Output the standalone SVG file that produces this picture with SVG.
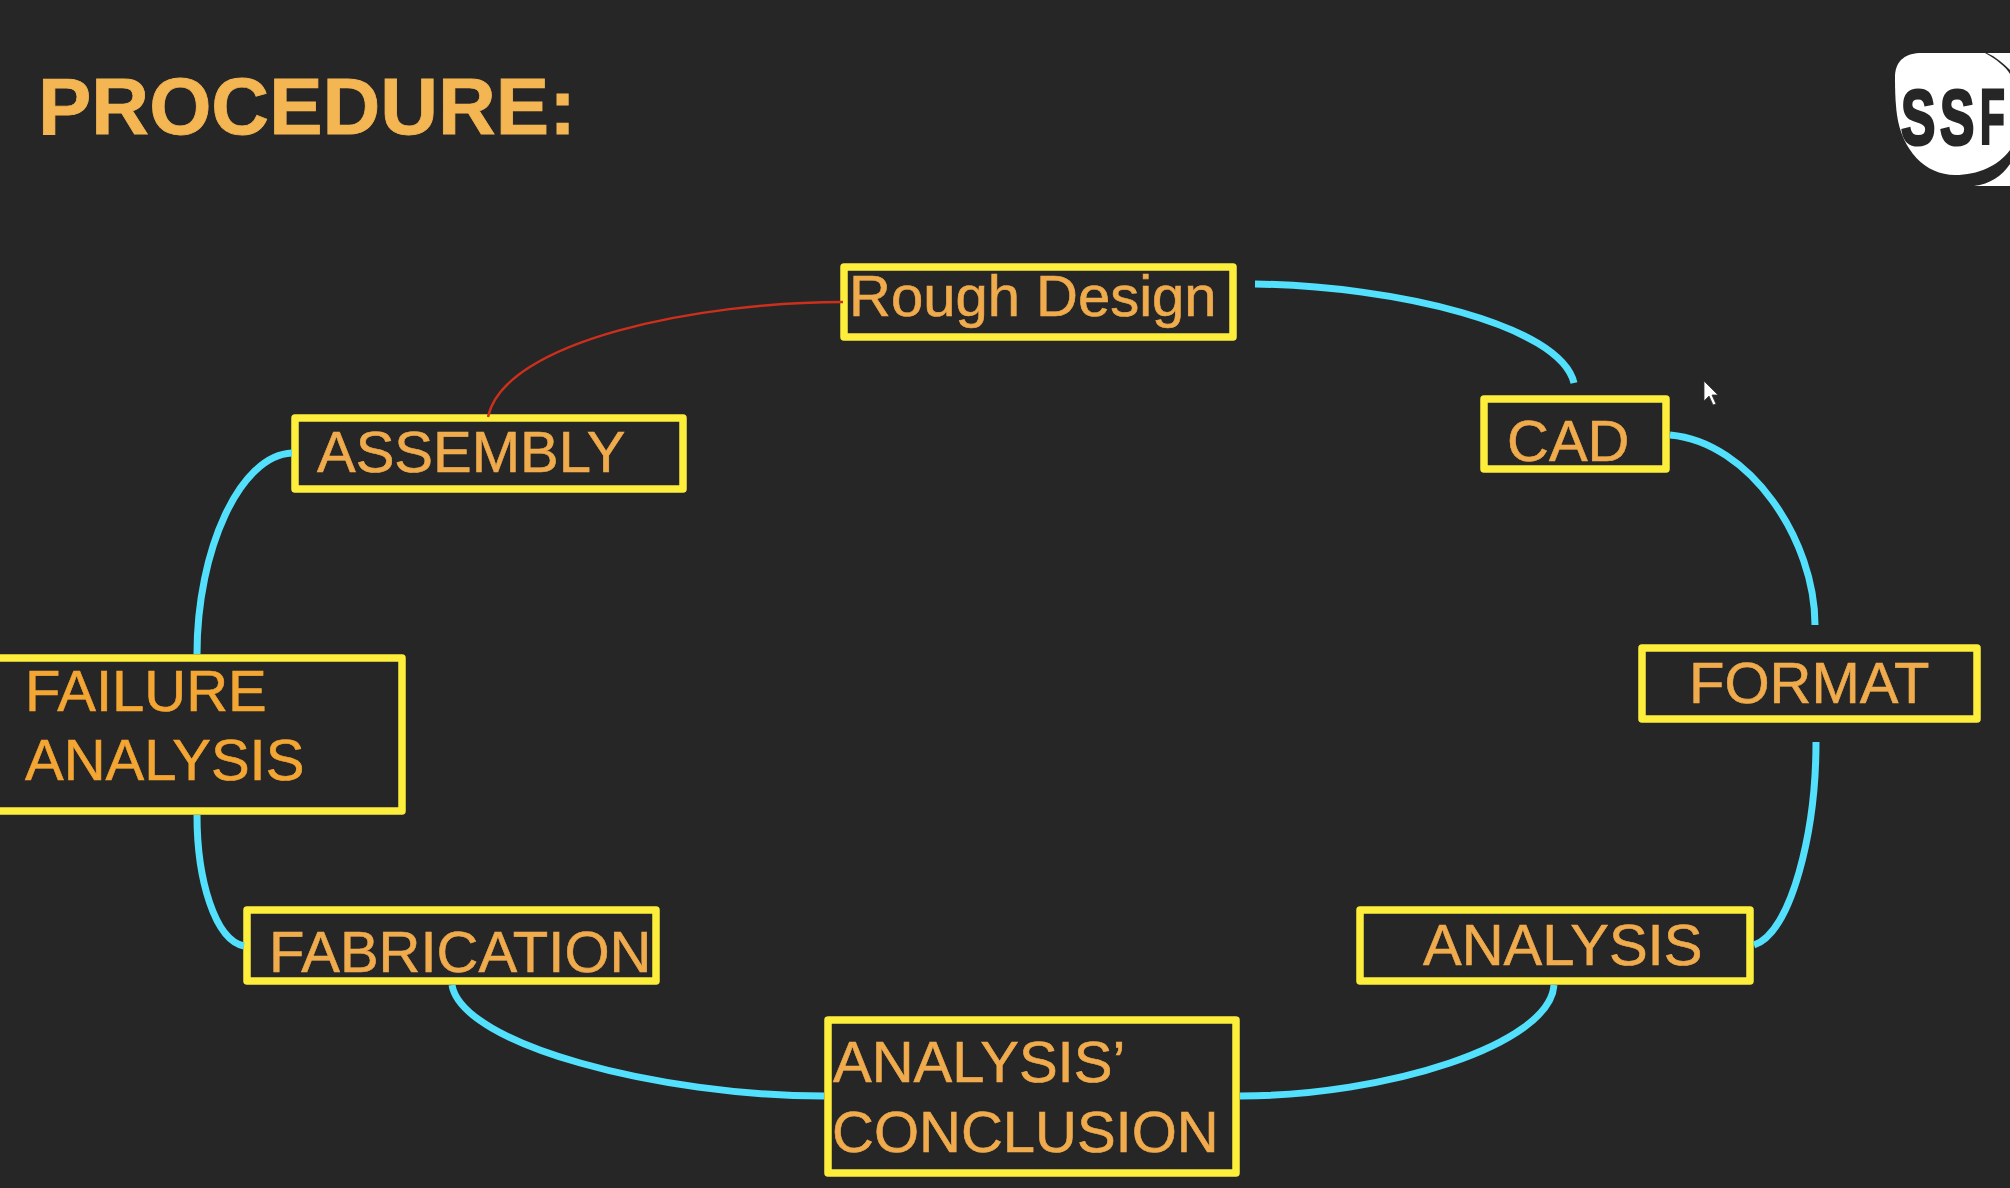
<svg xmlns="http://www.w3.org/2000/svg" width="2010" height="1188" viewBox="0 0 2010 1188">
<style>
.box{fill:#262626;stroke:#fdee3c;stroke-width:7.5;stroke-linejoin:round}
.t{font-family:"Liberation Sans",Arial,sans-serif;font-size:58px;fill:#f0ab4d;stroke:#f0ab4d;stroke-width:.6}
.t2{fill:#f3a633;stroke:#f3a633}
.c{fill:none;stroke:#52e0fc;stroke-width:7}
.r{fill:none;stroke:#cc301c;stroke-width:2.4}
</style>
<rect id="background" width="2010" height="1188" fill="#262626"/>
<text id="title" x="38" y="134" font-family="'Liberation Sans',Arial,sans-serif" font-size="80" font-weight="700" fill="#f4b653" stroke="#f4b653" stroke-width=".8">PROCEDURE:</text>
<g id="logo">
<path d="M1922 53H1985C1997 60 2005 66 2010 74V150C1998 166 1978 175 1955 175C1925 175 1902 150 1897 115C1895 100 1895 85 1895 75C1896 60 1906 53 1922 53Z" fill="#ffffff"/>
<path d="M1987 53H2010V70C2003 63 1996 57 1987 53Z" fill="#ffffff"/>
<path d="M1974 186C1990 184 2002 176 2010 164V186Z" fill="#ffffff"/>
<g font-family="'Liberation Sans',Arial,sans-serif" font-weight="700" font-size="78" fill="#262626" stroke="#262626" stroke-width="3">
<text transform="translate(1901 144) scale(.66 1)">S</text>
<text transform="translate(1940 144) scale(.66 1)">S</text>
<text transform="translate(1980 144) scale(.52 1)">F</text>
</g>
</g>
<g id="node-rough-design"><rect class="box" x="844" y="267" width="389" height="70"/><text class="t" x="849" y="316">Rough Design</text></g>
<g id="node-cad"><rect class="box" x="1484" y="399" width="182" height="70"/><text class="t" x="1507" y="461">CAD</text></g>
<g id="node-format"><rect class="box" x="1642" y="648" width="335" height="71"/><text class="t" x="1689" y="703">FORMAT</text></g>
<g id="node-analysis"><rect class="box" x="1360" y="910" width="390" height="71"/><text class="t" x="1423" y="965">ANALYSIS</text></g>
<g id="node-conclusion"><rect class="box" x="828" y="1020" width="408" height="153"/><text class="t" x="833" y="1082">ANALYSIS’</text><text class="t" x="832" y="1152">CONCLUSION</text></g>
<g id="node-fabrication"><rect class="box" x="247" y="910" width="409" height="71"/><text class="t" x="269" y="972">FABRICATION</text></g>
<g id="node-failure"><rect class="box" x="-12" y="658" width="414" height="153"/><text class="t t2" x="25" y="711">FAILURE</text><text class="t t2" x="25" y="780">ANALYSIS</text></g>
<g id="node-assembly"><rect class="box" x="295" y="418" width="388" height="71"/><text class="t" x="317" y="472">ASSEMBLY</text></g>
<g id="connectors">
<path class="c" d="M1255 284C1395 286 1560 325 1574 383"/>
<path class="c" d="M1670 435C1750 442 1815 540 1815 625"/>
<path class="c" d="M1816 742C1816 830 1792 932 1754 945"/>
<path class="c" d="M1554 985C1550 1045 1385 1096 1240 1096"/>
<path class="c" d="M452 985C462 1045 660 1096 824 1096"/>
<path class="c" d="M197 815C197 880 215 940 244 946"/>
<path class="c" d="M292 453C240 455 197 550 197 654"/>
<path class="r" d="M843 302C700 302 505 340 488 417"/>
</g>
<polygon id="cursor" points="1704,381 1704,401 1709,396 1713,405 1716,404 1712,395 1718,395" fill="#ffffff" stroke="#333" stroke-width=".8"/>
</svg>
